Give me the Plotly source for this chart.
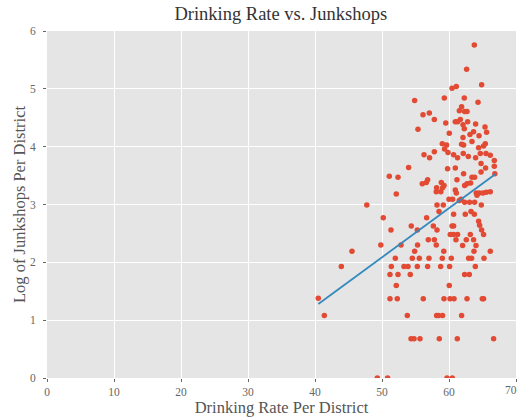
import plotly.graph_objects as go

# Drinking rate per district (x) and log of junkshops per district (y)
drinking_rate = [
    54.87, 59.30, 56.12, 57.06, 57.81, 55.37, 59.00, 57.81, 56.27, 59.52,
    59.34, 63.78, 62.63, 64.87, 61.09, 60.45, 62.28, 64.33, 61.88, 61.54,
    62.33, 62.69, 61.69, 61.28, 60.94, 62.09, 62.78, 63.97, 62.28, 65.37,
    65.61, 60.04, 63.67, 63.13, 64.48, 62.09, 63.43, 61.88, 62.18, 59.64,
    65.42, 65.16, 64.42, 59.85, 60.69, 62.13, 64.67, 65.52, 66.16, 61.28,
    62.88, 63.97, 66.76, 57.10, 53.97, 51.09, 52.39, 56.81, 56.61, 56.01,
    58.85, 59.25, 58.15, 59.04, 58.10, 58.78, 52.13, 47.73, 58.21, 59.15,
    58.51, 50.19, 56.66, 51.34, 54.37, 55.27, 57.66, 58.21, 49.82, 52.84,
    56.91, 57.81, 54.87, 55.31, 58.10, 59.22, 51.99, 54.52, 55.57, 57.01,
    59.00, 51.39, 53.28, 53.88, 55.27, 56.81, 58.75, 64.78, 65.46, 66.76,
    66.84, 59.79, 60.94, 62.18, 64.78, 63.43, 63.82, 61.19, 62.69, 62.33,
    63.22, 60.94, 61.09, 64.07, 64.52, 65.07, 65.57, 66.16, 64.18, 60.00,
    60.54, 61.79, 61.54, 62.33, 63.07, 63.82, 64.82, 60.69, 62.43, 63.28,
    63.78, 64.42, 64.57, 64.87, 65.16, 60.45, 60.69, 60.19, 60.69, 61.28,
    63.18, 61.04, 62.58, 63.67, 62.03, 64.03, 63.73, 66.16, 60.34, 62.93,
    63.37, 65.22, 60.09, 63.93, 51.19, 52.39, 54.22, 52.13, 51.19, 52.28,
    56.16, 59.25, 53.78, 58.15, 58.45, 59.04, 54.33, 54.78, 55.67, 58.55,
    49.30, 50.84, 62.33, 63.03, 60.04, 60.15, 60.75, 62.69, 64.97, 65.16,
    61.88, 61.24, 66.66, 59.70, 60.49, 40.49, 41.39, 43.93, 45.52,
]
log_junkshops = [
    4.80, 4.84, 4.55, 4.58, 4.47, 4.30, 4.05, 3.91, 3.86, 4.41,
    3.96, 5.76, 5.34, 5.07, 5.04, 5.01, 4.84, 4.77, 4.69, 4.62,
    4.61, 4.61, 4.47, 4.43, 4.43, 4.38, 4.43, 4.39, 4.31, 4.34,
    4.25, 4.23, 4.26, 4.21, 4.19, 4.16, 4.09, 4.04, 4.03, 4.03,
    4.05, 4.01, 3.98, 3.90, 3.86, 3.88, 3.88, 3.88, 3.85, 3.81,
    3.83, 3.81, 3.76, 3.81, 3.64, 3.49, 3.47, 3.43, 3.38, 3.36,
    3.38, 3.33, 3.29, 3.29, 3.22, 3.22, 3.18, 2.99, 2.99, 2.99,
    2.88, 2.77, 2.77, 2.56, 2.63, 2.56, 2.63, 2.56, 2.30, 2.30,
    2.39, 2.39, 2.19, 2.30, 2.30, 2.19, 2.07, 2.07, 2.07, 2.07,
    2.07, 1.93, 1.93, 1.93, 1.93, 1.93, 1.93, 3.71, 3.63, 3.66,
    3.53, 3.62, 3.63, 3.53, 3.56, 3.47, 3.47, 3.43, 3.36, 3.33,
    3.37, 3.25, 3.20, 3.20, 3.20, 3.20, 3.21, 3.22, 3.16, 3.09,
    3.09, 3.09, 3.07, 3.04, 3.04, 3.04, 2.99, 2.83, 2.83, 2.88,
    2.83, 2.71, 2.64, 2.56, 2.48, 2.63, 2.63, 2.48, 2.48, 2.48,
    2.48, 2.39, 2.39, 2.39, 2.29, 2.29, 2.19, 2.19, 2.07, 2.07,
    2.07, 2.07, 1.93, 1.93, 1.79, 1.79, 1.79, 1.60, 1.37, 1.37,
    1.37, 1.37, 1.08, 1.08, 1.08, 1.08, 0.68, 0.68, 0.68, 0.68,
    0.00, 0.00, 1.79, 1.79, 1.60, 1.37, 1.37, 1.37, 1.37, 1.37,
    1.08, 0.68, 0.68, 0.00, 0.00, 1.38, 1.08, 1.93, 2.19,
]

# Fitted regression line endpoints
fit_x = [40.5, 67.0]
fit_y = [1.28, 3.53]

x_ticks = [0, 10, 20, 30, 40, 50, 60, 70]
y_ticks = [0, 1, 2, 3, 4, 5, 6]

FONT = "Liberation Serif, DejaVu Serif, serif"
TICK_COLOR = "#666666"

fig = go.Figure()
fig.add_trace(go.Scatter(
    x=drinking_rate, y=log_junkshops, mode="markers",
    marker=dict(color="#E24A33", size=5.5, line=dict(width=0)),
    showlegend=False,
))
fig.add_trace(go.Scatter(
    x=fit_x, y=fit_y, mode="lines",
    line=dict(color="#348ABD", width=1.8),
    showlegend=False,
))

# last x tick label sits at the right figure edge; keep it fully visible
fig.add_annotation(
    x=x_ticks[-1], xref="x", y=0, yref="paper",
    text=str(x_ticks[-1]), showarrow=False,
    xanchor="right", yanchor="top", yshift=-4, xshift=3,
    font=dict(family=FONT, size=11.5, color=TICK_COLOR),
)

fig.update_layout(
    width=519, height=419,
    margin=dict(l=47, r=3, t=31, b=41),
    paper_bgcolor="white",
    plot_bgcolor="#E5E5E5",
    font=dict(family=FONT, color="#555555"),
    title=dict(
        text="Drinking Rate vs. Junkshops",
        x=0.541, xanchor="center",
        y=1 - 14 / 419, yanchor="middle",
        font=dict(family=FONT, size=18.5, color="#333333"),
    ),
    xaxis=dict(
        range=[0, 70], tickvals=x_ticks, ticktext=[str(v) for v in x_ticks],
        showgrid=True, gridcolor="white", gridwidth=1,
        zeroline=False, showline=False,
        ticks="outside", ticklen=3, tickcolor=TICK_COLOR,
        tickfont=dict(family=FONT, size=11.5, color=TICK_COLOR),
        title=dict(text="Drinking Rate Per District", standoff=0,
                   font=dict(family=FONT, size=16.5, color="#555555")),
        automargin=False,
    ),
    yaxis=dict(
        range=[0, 6], tickvals=y_ticks, ticktext=[str(v) for v in y_ticks],
        showgrid=True, gridcolor="white", gridwidth=1,
        zeroline=False, showline=False,
        ticks="outside", ticklen=3, tickcolor=TICK_COLOR,
        tickfont=dict(family=FONT, size=11.5, color=TICK_COLOR),
        ticklabelstandoff=5,
        title=dict(text="Log of Junkshops Per District", standoff=0,
                   font=dict(family=FONT, size=16.5, color="#555555")),
        automargin=False,
    ),
)

fig.write_html(
    "out.html",
    config={"displayModeBar": False},
    post_script="document.body.style.margin='0px';document.body.style.overflow='hidden';",
)
